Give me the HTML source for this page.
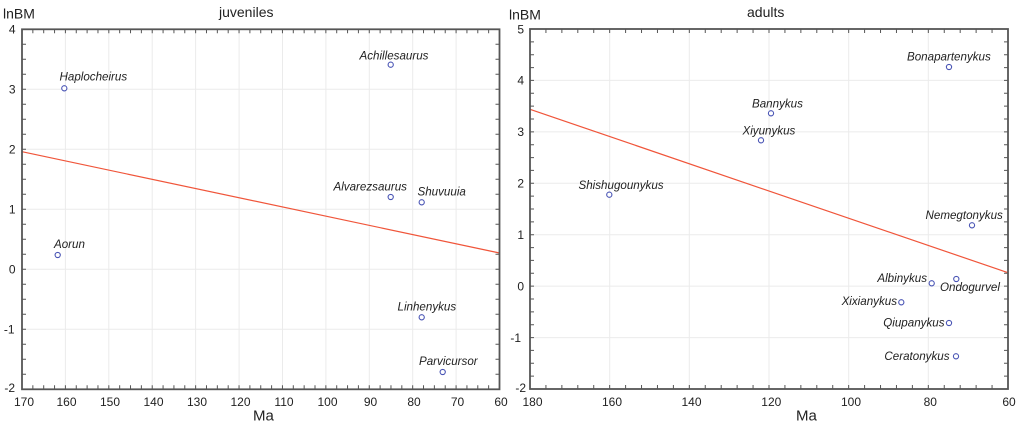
<!DOCTYPE html>
<html>
<head>
<meta charset="utf-8">
<style>
  html, body { margin: 0; padding: 0; background: #ffffff; }
  svg { display: block; }
  text { font-family: "Liberation Sans", Arial, sans-serif; fill: #222; }
  .lab { font-style: italic; font-size: 11.6px; fill: #222; }
  .tk { font-size: 12px; fill: #222; }
</style>
</head>
<body>
<svg width="1023" height="426" viewBox="0 0 1023 426" xmlns="http://www.w3.org/2000/svg">
  <rect x="0" y="0" width="1023" height="426" fill="#ffffff"/>

  <!-- ================= LEFT PANEL (juveniles) ================= -->
  <!-- gridlines -->
  <g stroke="#ebebeb" stroke-width="1">
    <line x1="65.4" y1="29.3" x2="65.4" y2="389.3"/>
    <line x1="108.8" y1="29.3" x2="108.8" y2="389.3"/>
    <line x1="152.2" y1="29.3" x2="152.2" y2="389.3"/>
    <line x1="195.6" y1="29.3" x2="195.6" y2="389.3"/>
    <line x1="239.1" y1="29.3" x2="239.1" y2="389.3"/>
    <line x1="282.5" y1="29.3" x2="282.5" y2="389.3"/>
    <line x1="325.9" y1="29.3" x2="325.9" y2="389.3"/>
    <line x1="369.3" y1="29.3" x2="369.3" y2="389.3"/>
    <line x1="412.7" y1="29.3" x2="412.7" y2="389.3"/>
    <line x1="456.1" y1="29.3" x2="456.1" y2="389.3"/>
    <line x1="22" y1="89.3" x2="499.5" y2="89.3"/>
    <line x1="22" y1="149.3" x2="499.5" y2="149.3"/>
    <line x1="22" y1="209.3" x2="499.5" y2="209.3"/>
    <line x1="22" y1="269.3" x2="499.5" y2="269.3"/>
    <line x1="22" y1="329.3" x2="499.5" y2="329.3"/>
  </g>
  <!-- minor ticks -->
  <g stroke="#555" fill="none">
    <line x1="21.5" y1="387.3" x2="500.5" y2="387.3" stroke-width="4" stroke-dasharray="1 9.852"/>
    <line x1="21.5" y1="31.3" x2="500.5" y2="31.3" stroke-width="4" stroke-dasharray="1 9.852"/>
    <line x1="24" y1="28.8" x2="24" y2="390" stroke-width="4" stroke-dasharray="1 14"/>
    <line x1="497.5" y1="28.8" x2="497.5" y2="390" stroke-width="4" stroke-dasharray="1 14"/>
  </g>
  <!-- regression -->
  <line x1="22" y1="151.7" x2="499.5" y2="253" stroke="#f0553a" stroke-width="1.2"/>
  <!-- frame -->
  <rect x="22" y="29.3" width="477.5" height="360" fill="none" stroke="#555" stroke-width="1.8"/>

  <!-- y tick labels -->
  <g class="tk" text-anchor="end">
    <text x="15.5" y="33.5" class="tk">4</text>
    <text x="15.5" y="93.5" class="tk">3</text>
    <text x="15.5" y="153.5" class="tk">2</text>
    <text x="15.5" y="213.5" class="tk">1</text>
    <text x="15.5" y="273.5" class="tk">0</text>
    <text x="14.5" y="333.5" class="tk">-1</text>
    <text x="15" y="392" class="tk">-2</text>
  </g>
  <!-- x tick labels -->
  <g text-anchor="middle">
    <text x="24" y="406" class="tk">170</text>
    <text x="66.5" y="406" class="tk">160</text>
    <text x="110" y="406" class="tk">150</text>
    <text x="153.5" y="406" class="tk">140</text>
    <text x="197" y="406" class="tk">130</text>
    <text x="240.5" y="406" class="tk">120</text>
    <text x="284" y="406" class="tk">110</text>
    <text x="327.5" y="406" class="tk">100</text>
    <text x="370.5" y="406" class="tk">90</text>
    <text x="414" y="406" class="tk">80</text>
    <text x="457.5" y="406" class="tk">70</text>
    <text x="501" y="406" class="tk">60</text>
  </g>

  <text x="3" y="18.5" font-size="14">lnBM</text>
  <text x="219" y="17" font-size="14">juveniles</text>
  <text x="253" y="420.5" font-size="15">Ma</text>

  <!-- points -->
  <g fill="#fff" stroke="#4a55b5" stroke-width="1.1">
    <circle cx="64.3" cy="88.3" r="2.6"/>
    <circle cx="390.7" cy="64.7" r="2.6"/>
    <circle cx="390.7" cy="197" r="2.6"/>
    <circle cx="421.7" cy="202.3" r="2.6"/>
    <circle cx="57.7" cy="255" r="2.6"/>
    <circle cx="421.7" cy="317.3" r="2.6"/>
    <circle cx="442.7" cy="372" r="2.6"/>
  </g>
  <text class="lab" x="59.5" y="80.7">Haplocheirus</text>
  <text class="lab" x="359.5" y="59.3">Achillesaurus</text>
  <text class="lab" x="333.5" y="190.7">Alvarezsaurus</text>
  <text class="lab" x="417.5" y="195.7">Shuvuuia</text>
  <text class="lab" x="54" y="248">Aorun</text>
  <text class="lab" x="397.5" y="310.7">Linhenykus</text>
  <text class="lab" x="419" y="365">Parvicursor</text>

  <!-- ================= RIGHT PANEL (adults) ================= -->
  <g stroke="#ebebeb" stroke-width="1">
    <line x1="609.7" y1="29" x2="609.7" y2="389"/>
    <line x1="689.3" y1="29" x2="689.3" y2="389"/>
    <line x1="769" y1="29" x2="769" y2="389"/>
    <line x1="848.7" y1="29" x2="848.7" y2="389"/>
    <line x1="928.3" y1="29" x2="928.3" y2="389"/>
    <line x1="530" y1="80.4" x2="1008" y2="80.4"/>
    <line x1="530" y1="131.9" x2="1008" y2="131.9"/>
    <line x1="530" y1="183.3" x2="1008" y2="183.3"/>
    <line x1="530" y1="234.7" x2="1008" y2="234.7"/>
    <line x1="530" y1="286.1" x2="1008" y2="286.1"/>
    <line x1="530" y1="337.6" x2="1008" y2="337.6"/>
  </g>
  <g stroke="#555" fill="none">
    <line x1="529.5" y1="387" x2="1009" y2="387" stroke-width="4" stroke-dasharray="1 14.933"/>
    <line x1="529.5" y1="31" x2="1009" y2="31" stroke-width="4" stroke-dasharray="1 14.933"/>
    <line x1="532" y1="28.5" x2="532" y2="390" stroke-width="4" stroke-dasharray="1 11.857"/>
    <line x1="1006" y1="28.5" x2="1006" y2="390" stroke-width="4" stroke-dasharray="1 11.857"/>
  </g>
  <line x1="530" y1="109.3" x2="1008" y2="272.7" stroke="#f0553a" stroke-width="1.2"/>
  <rect x="530" y="29" width="478" height="360" fill="none" stroke="#555" stroke-width="1.8"/>

  <g text-anchor="end">
    <text x="524" y="33.3" class="tk">5</text>
    <text x="524" y="84.7" class="tk">4</text>
    <text x="524" y="136.2" class="tk">3</text>
    <text x="524" y="187.6" class="tk">2</text>
    <text x="524" y="239" class="tk">1</text>
    <text x="524" y="290.4" class="tk">0</text>
    <text x="521" y="341.9" class="tk">-1</text>
    <text x="526" y="392" class="tk">-2</text>
  </g>
  <g text-anchor="middle">
    <text x="532.5" y="406" class="tk">180</text>
    <text x="612" y="406" class="tk">160</text>
    <text x="691.5" y="406" class="tk">140</text>
    <text x="771.3" y="406" class="tk">120</text>
    <text x="851" y="406" class="tk">100</text>
    <text x="930.3" y="406" class="tk">80</text>
    <text x="1009" y="406" class="tk">60</text>
  </g>

  <text x="509" y="19.5" font-size="14">lnBM</text>
  <text x="747" y="17" font-size="14">adults</text>
  <text x="796" y="420.5" font-size="15">Ma</text>

  <g fill="#fff" stroke="#4a55b5" stroke-width="1.1">
    <circle cx="949" cy="67" r="2.6"/>
    <circle cx="771" cy="113.3" r="2.6"/>
    <circle cx="761" cy="140.3" r="2.6"/>
    <circle cx="609.3" cy="194.7" r="2.6"/>
    <circle cx="972" cy="225.3" r="2.6"/>
    <circle cx="931.7" cy="283.3" r="2.6"/>
    <circle cx="956.3" cy="279" r="2.6"/>
    <circle cx="901.3" cy="302.3" r="2.6"/>
    <circle cx="949" cy="323" r="2.6"/>
    <circle cx="956" cy="356.3" r="2.6"/>
  </g>
  <text class="lab" x="907" y="60.7">Bonapartenykus</text>
  <text class="lab" x="752" y="107.3">Bannykus</text>
  <text class="lab" x="742.5" y="134.3">Xiyunykus</text>
  <text class="lab" x="578.5" y="189">Shishugounykus</text>
  <text class="lab" x="925.5" y="219">Nemegtonykus</text>
  <text class="lab" x="927" y="282" text-anchor="end">Albinykus</text>
  <text class="lab" x="940" y="291">Ondogurvel</text>
  <text class="lab" x="897" y="305" text-anchor="end">Xixianykus</text>
  <text class="lab" x="944.5" y="326.7" text-anchor="end">Qiupanykus</text>
  <text class="lab" x="949.5" y="360" text-anchor="end">Ceratonykus</text>
</svg>
</body>
</html>
